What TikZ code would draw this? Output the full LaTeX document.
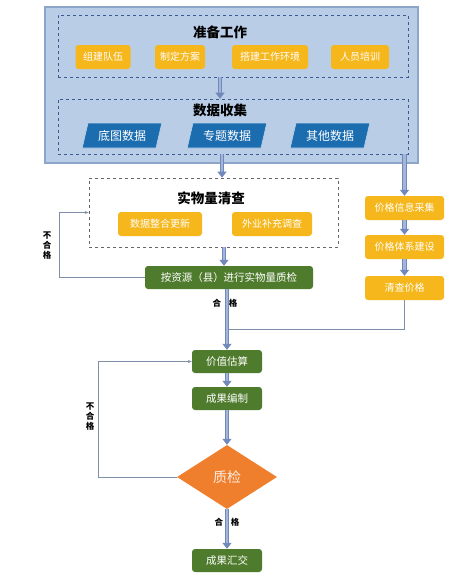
\documentclass[tikz,border=0pt]{standalone}
\usepackage{fontspec}
\newfontfamily\cjk{Noto Sans CJK SC}
\usetikzlibrary{shapes.geometric,arrows.meta}
\definecolor{outerf}{HTML}{B9CDE6}
\definecolor{outerb}{HTML}{8DA5C8}
\definecolor{dashb}{HTML}{3A5A90}
\definecolor{ygold}{HTML}{F5B71C}
\definecolor{pblue}{HTML}{1C6CB0}
\definecolor{ggreen}{HTML}{4F7B2D}
\definecolor{dorange}{HTML}{EF7F2C}
\definecolor{arrowc}{HTML}{7189BA}
\definecolor{arrowl}{HTML}{A3B6DA}
\definecolor{linec}{HTML}{7F8FA8}
\tikzset{
  ybox/.style={rectangle, rounded corners=3pt, fill=ygold, text=white, minimum height=24pt, inner sep=2pt, font=\cjk\fontsize{10}{12}\selectfont},
  gbox/.style={rectangle, rounded corners=3pt, fill=ggreen, text=white, minimum height=23pt, inner sep=2pt, font=\cjk\fontsize{10.5}{12}\selectfont},
  pbox/.style={trapezium, trapezium left angle=72, trapezium right angle=108, trapezium stretches=true, fill=pblue, draw=white!70!pblue, line width=0.6pt, text=white, minimum width=80pt, minimum height=25pt, inner sep=1pt, font=\cjk\fontsize{12}{13}\selectfont},
  dbox/.style={rectangle, draw=dashb, dashed, line width=0.6pt, inner sep=0pt},
  titletxt/.style={font=\cjk\bfseries\fontsize{13.5}{15}\selectfont, text=black},
  lab/.style={font=\cjk\bfseries\fontsize{8.5}{10}\selectfont, text=black, align=center, inner sep=0pt},
  bigarrow/.style={draw=arrowc, line width=1pt, double=arrowl, double distance=2.4pt, -{Triangle[length=6pt,width=9pt,fill=arrowc]}},
  thinline/.style={draw=linec, line width=0.6pt},
  thinarrow/.style={draw=linec, line width=0.6pt, -{Stealth[length=4pt,width=3pt]}},
}
\begin{document}
\begin{tikzpicture}[x=1pt,y=-1pt]
\useasboundingbox[fill=white] (0,0) rectangle (459,574);
% outer blue panel
\node (outer) [rectangle, draw=outerb, fill=outerf, line width=1.2pt, minimum width=373pt, minimum height=156pt, inner sep=0pt] at (231.5,85) {};
% box 1
\node (b1) [dbox, minimum width=350pt, minimum height=62pt] at (233,46) {};
\node (t1) [titletxt] at (220,32) {准备工作};
\node (y1) [ybox, minimum width=55pt] at (103,57) {组建队伍};
\node (y2) [ybox, minimum width=50pt] at (180,57) {制定方案};
\node (y3) [ybox, minimum width=76pt] at (270,57) {搭建工作环境};
\node (y4) [ybox, minimum width=58pt] at (360,57) {人员培训};
% box 2
\node (b2) [dbox, minimum width=350pt, minimum height=55pt] at (233,126.5) {};
\node (t2) [titletxt] at (220,110) {数据收集};
\node (d1) [pbox] at (122,135.5) {底图数据};
\node (d2) [pbox] at (227,135.5) {专题数据};
\node (d3) [pbox] at (330,135.5) {其他数据};
% box 3
\node (b3) [dbox, draw=gray!80!black, minimum width=249pt, minimum height=69pt] at (213.5,212.5) {};
\node (t3) [titletxt] at (211,198) {实物量清查};
\node (s1) [ybox, minimum width=84pt] at (160,224) {数据整合更新};
\node (s2) [ybox, minimum width=80pt] at (272,224) {外业补充调查};
% QC
\node (qc) [gbox, minimum width=168pt] at (229,277.5) {按资源（县）进行实物量质检};
% right column
\node (p1) [ybox, minimum width=79pt] at (404.5,208) {价格信息采集};
\node (p2) [ybox, minimum width=79pt] at (404.5,247) {价格体系建设};
\node (p3) [ybox, minimum width=79pt] at (404.5,288) {清查价格};
% lower chain
\node (v1) [gbox, minimum width=70pt] at (227,361.5) {价值估算};
\node (v2) [gbox, minimum width=70pt] at (227,398.5) {成果编制};
\node (dia) [diamond, fill=dorange, aspect=1.56, minimum width=100pt, minimum height=64pt, inner sep=0pt, text=white!85!dorange, font=\cjk\fontsize{14}{16}\selectfont] at (227,477) {质检};
\node (v3) [gbox, minimum width=70pt] at (227,560.5) {成果汇交};
% coordinates
\coordinate (jn) at (227,329);
\coordinate (rc) at (404.5,154);
% arrows
\draw[thinline] (p3.south) |- (jn);
\draw[bigarrow] (t1 |- b1.south) -- (t1 |- b2.north);
\draw[bigarrow] (b2.south -| 222,0) -- (b3.north -| 222,0);
\draw[bigarrow] (rc) -- (p1.north);
\draw[bigarrow] (p1.south) -- (p2.north);
\draw[bigarrow] (p2.south) -- (p3.north);
\draw[bigarrow] (b3.south -| 224,0) -- (qc.north -| 224,0);
\draw[bigarrow] (qc.south -| v1) -- (v1.north);
\draw[bigarrow] (v1.south) -- (v2.north);
\draw[bigarrow] (v2.south) -- (dia.north);
\draw[bigarrow] (dia.south) -- (v3.north);
\draw[thinarrow] (qc.west) -- ++(-86,0) |- (b3.west);
\draw[thinarrow] (dia.west) -- ++(-79,0) |- (v1.west);
% labels
\node (l1) [lab] at (47,246) {不\\合\\格};
\node (l2) [lab] at (90,417) {不\\合\\格};
\node (l3) [lab] at (225,303) {合\hspace{8pt}格};
\node (l4) [lab] at (227,522) {合\hspace{8pt}格};
\end{tikzpicture}
\end{document}
